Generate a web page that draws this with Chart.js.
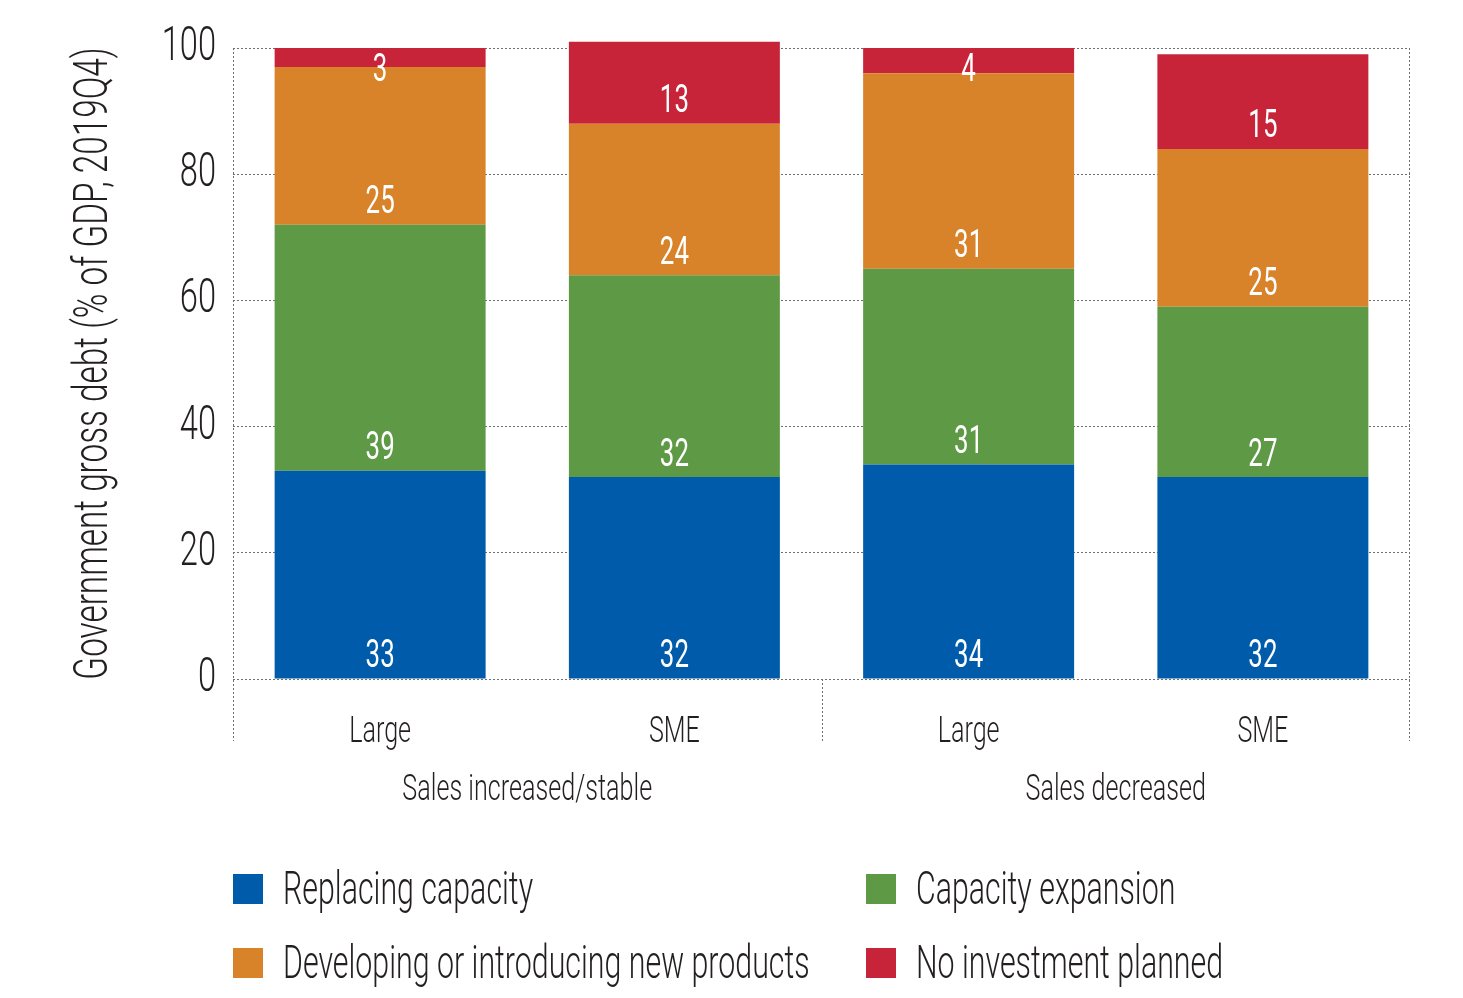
<!DOCTYPE html>
<html>
<head>
<meta charset="utf-8">
<title>Investment plans by firm size and sales</title>
<script src="https://cdn.jsdelivr.net/npm/chart.js@4.4.0/dist/chart.umd.min.js"></script>
<style>
  body { margin: 0; background: #fff; }
  #wrap { position: relative; width: 1463px; height: 998px; }
  #legend {
    position: absolute; left: 233px; top: 861px;
    display: grid; grid-template-columns: 633px auto; row-gap: 19px;
    font-family: Roboto, 'DejaVu Sans', sans-serif; font-weight: 300;
    font-size: 46px; color: #231f20;
  }
  .item { display: flex; align-items: center; line-height: 55px; white-space: nowrap; }
  .box { width: 30px; height: 30px; margin-right: 20px; flex: none; }
  .name { display: inline-block; transform: scaleX(0.66); transform-origin: left center; }
</style>
</head>
<body>
<div id="wrap">
  <canvas id="investChart" width="1463" height="998"></canvas>
  <div id="legend"></div>
</div>
<script>
const categories = ["Large", "SME", "Large", "SME"];
const groups = ["Sales increased/stable", "Sales decreased"];
const seriesNames = ["Replacing capacity", "Capacity expansion", "Developing or introducing new products", "No investment planned"];
const seriesColors = ["#005baa", "#5e9a46", "#d88329", "#c7243a"];

const replacing = [33, 32, 34, 32];
const expansion = [39, 32, 31, 27];
const newProducts = [25, 24, 31, 25];
const noInvestment = [3, 13, 4, 15];

const yTicks = [0, 20, 40, 60, 80, 100];

const FONT = "Roboto, 'DejaVu Sans', sans-serif";
const TEXT = "#231f20";
const SQUEEZE = 0.68;

// condensed lettering: every canvas string is squeezed horizontally
const baseFillText = CanvasRenderingContext2D.prototype.fillText;
CanvasRenderingContext2D.prototype.fillText = function (text, x, y, maxWidth) {
  const w = this.measureText(text).width * SQUEEZE;
  return baseFillText.call(this, text, x, y, maxWidth === undefined ? w : Math.min(w, maxWidth));
};

// white value written just above the base of each segment,
// kept inside the plot area for the thin top segments
const segmentLabels = {
  id: "segmentLabels",
  afterDatasetsDraw(chart) {
    const ctx = chart.ctx;
    const top = chart.chartArea.top;
    ctx.save();
    ctx.font = "38px " + FONT;
    ctx.fillStyle = "#fff";
    ctx.textAlign = "center";
    ctx.textBaseline = "middle";
    chart.data.datasets.forEach((ds, i) => {
      chart.getDatasetMeta(i).data.forEach((bar, j) => {
        const y = Math.max(bar.base - 21, top + 23);
        ctx.fillText(String(ds.data[j]), bar.x, y);
      });
    });
    ctx.restore();
  }
};

// dotted frame sides and the divider between the two sales groups
const groupFrame = {
  id: "groupFrame",
  beforeDatasetsDraw(chart) {
    const { ctx, chartArea: a, scales } = chart;
    const x = scales.x;
    const drop = 62;
    const mid = Math.round((x.getPixelForValue(1) + x.getPixelForValue(2)) / 2) + 0.5;
    ctx.save();
    ctx.strokeStyle = "#6e6e6e";
    ctx.lineWidth = 1;
    ctx.setLineDash([2, 2]);
    ctx.beginPath();
    ctx.moveTo(a.left + 0.5, a.top);
    ctx.lineTo(a.left + 0.5, a.bottom + drop);
    ctx.moveTo(a.right - 0.5, a.top);
    ctx.lineTo(a.right - 0.5, a.bottom + drop);
    ctx.moveTo(mid, a.bottom);
    ctx.lineTo(mid, a.bottom + drop);
    ctx.stroke();
    ctx.restore();
  }
};

const values = [replacing, expansion, newProducts, noInvestment];

new Chart(document.getElementById("investChart"), {
  type: "bar",
  data: {
    labels: categories,
    datasets: values.map((v, i) => ({
      label: seriesNames[i],
      data: v,
      backgroundColor: seriesColors[i],
      borderWidth: 0,
      categoryPercentage: 1,
      barPercentage: 0.717,
      clip: false
    }))
  },
  options: {
    responsive: false,
    animation: false,
    layout: { padding: { left: 65, right: 53, top: 48, bottom: 176 } },
    plugins: { legend: { display: false }, tooltip: { enabled: false } },
    scales: {
      x: {
        stacked: true,
        afterFit: s => { s.height = 78; },
        grid: { display: false, drawTicks: false },
        border: { display: false },
        ticks: { color: TEXT, font: { family: FONT, size: 37, weight: "300" }, padding: 32 }
      },
      x2: {
        type: "category",
        labels: groups,
        position: "bottom",
        offset: true,
        afterFit: s => { s.height = 65; },
        grid: { display: false, drawTicks: false },
        border: { display: false },
        ticks: { color: TEXT, font: { family: FONT, size: 37, weight: "300" }, padding: 12 }
      },
      y: {
        stacked: true,
        min: 0,
        max: 100,
        afterBuildTicks: s => { s.ticks = yTicks.map(v => ({ value: v })); },
        afterFit: s => { s.width = 168; },
        grid: { color: "#6e6e6e", lineWidth: 1, drawTicks: false },
        border: { display: false, dash: [2, 2] },
        ticks: { color: TEXT, font: { family: FONT, size: 48, weight: "300" }, padding: 17 },
        title: {
          display: true,
          text: "Government gross debt (% of GDP, 2019Q4)",
          color: TEXT,
          font: { family: FONT, size: 49, weight: "300" },
          padding: { top: 0, bottom: 0 }
        }
      }
    }
  },
  plugins: [groupFrame, segmentLabels]
});

const legend = document.getElementById("legend");
seriesNames.forEach((name, i) => {
  const item = document.createElement("div");
  item.className = "item";
  item.innerHTML = '<span class="box" style="background:' + seriesColors[i] + '"></span><span class="name">' + name + "</span>";
  legend.appendChild(item);
});
</script>
</body>
</html>
